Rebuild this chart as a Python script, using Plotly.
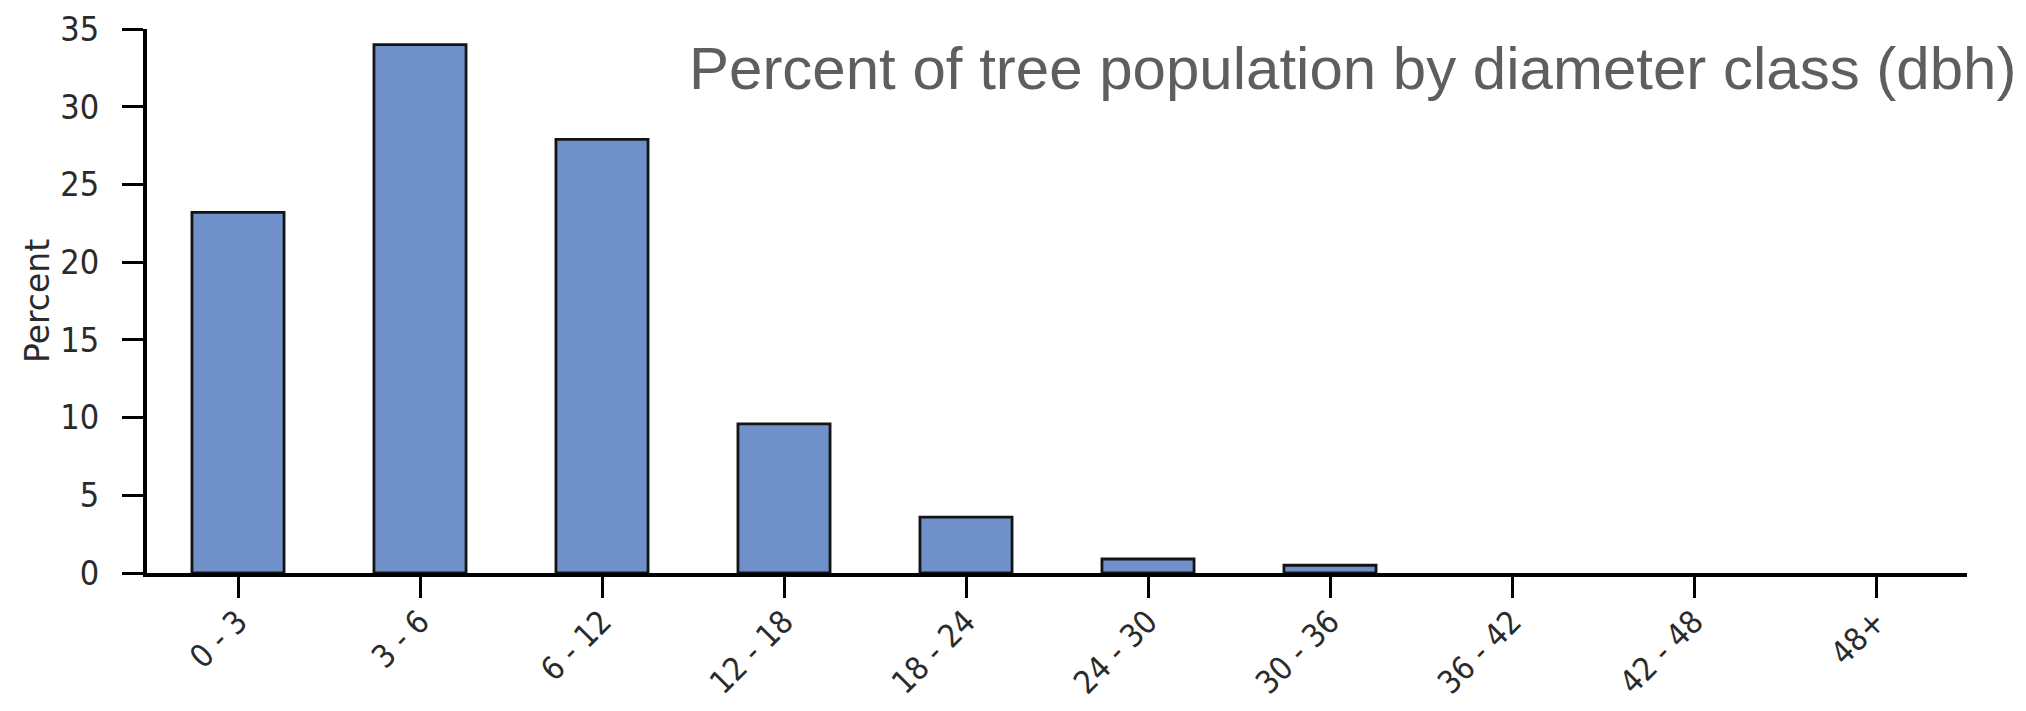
import plotly.graph_objects as go

categories = ["0 - 3", "3 - 6", "6 - 12", "12 - 18", "18 - 24", "24 - 30",
              "30 - 36", "36 - 42", "42 - 48", "48+"]
percent = [23.2, 34.0, 27.9, 9.6, 3.6, 0.9, 0.5, 0, 0, 0]
y_ticks = [0, 5, 10, 15, 20, 25, 30, 35]
title_text = "Percent of tree population by diameter class (dbh)"

W, H = 2026, 711
L, R, T, B = 147, 59, 29, 138

fig = go.Figure()
fig.add_trace(go.Bar(
    x=categories, y=percent,
    marker=dict(color="#7090c9",
                line=dict(color="#141414", width=[2.8 if v > 0 else 0 for v in percent])),
    hoverinfo="x+y",
))

tick_font = dict(family="DejaVu Sans Condensed, DejaVu Sans, sans-serif", size=34, color="#2a2a2a")
xtick_font = dict(family="DejaVu Sans Condensed, DejaVu Sans, sans-serif", size=32, color="#2a2a2a")
ytitle_font = dict(family="DejaVu Sans, sans-serif", size=33, color="#2a2a2a")

fig.update_layout(
    width=W, height=H,
    margin=dict(l=L, r=R, t=T, b=B, pad=0),
    paper_bgcolor="white", plot_bgcolor="white",
    bargap=0.494,
    showlegend=False,
    xaxis=dict(
        type="category", range=[-0.5, 9.5], automargin=False,
        showline=True, linecolor="black", linewidth=4,
        ticks="outside", ticklen=21, tickwidth=3, tickcolor="black",
        tickangle=-45, tickfont=xtick_font, showgrid=False, zeroline=False,
        ticklabelstandoff=-8,
        fixedrange=True,
    ),
    yaxis=dict(
        range=[0, 35], tickvals=y_ticks, automargin=False,
        showline=True, linecolor="black", linewidth=4,
        ticks="outside", ticklen=21, tickwidth=3, tickcolor="black",
        tickfont=tick_font, showgrid=False, zeroline=False,
        ticklabelstandoff=16,
        title=dict(text="Percent", font=ytitle_font, standoff=2),
        fixedrange=True,
    ),
    annotations=[dict(
        text=title_text, xref="paper", yref="paper",
        x=(2018 - L) / (W - L - R), y=1 - (69 - T) / (H - T - B),
        xanchor="right", yanchor="middle", showarrow=False,
        font=dict(family="Liberation Sans, Arial, sans-serif", size=60, color="#5e5e5e"),
    )],
)

fig.write_html(
    "out.html",
    config={"displayModeBar": False},
    post_script="document.body.style.margin='0';document.body.style.padding='0';"
                "document.body.style.overflow='hidden';"
                "document.documentElement.style.overflow='hidden';",
)
